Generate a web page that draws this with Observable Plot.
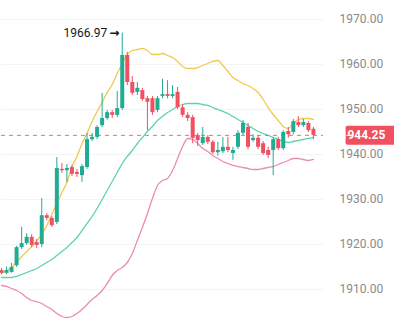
<!DOCTYPE html>
<html><head><meta charset="utf-8">
<script src="https://cdn.jsdelivr.net/npm/d3@7"></script>
<script src="https://cdn.jsdelivr.net/npm/@observablehq/plot@0.6"></script>
<style>body{margin:0;background:#fff}</style>
</head><body><div id="chart"></div>
<script>
const open  = [1914.2,1913.6,1913.8,1915.3,1919.3,1920.2,1921.6,1920.4,1920.0,1926.4,1925.8,1924.9,1936.7,1936.4,1937.1,1936.0,1935.3,1937.1,1943.3,1943.8,1946.4,1948.0,1949.3,1948.7,1950.2,1962.0,1956.0,1953.8,1954.2,1952.4,1952.4,1949.8,1952.9,1953.3,1952.9,1953.8,1950.4,1948.7,1948.2,1944.2,1942.4,1943.8,1942.7,1940.4,1940.6,1941.6,1940.2,1941.6,1944.7,1946.0,1943.1,1943.6,1942.4,1940.9,1940.9,1943.3,1941.3,1945.1,1944.9,1947.1,1946.4,1946.9,1945.6];
const close = [1913.6,1914.2,1914.9,1919.3,1920.2,1921.6,1919.8,1919.8,1926.4,1925.8,1924.2,1936.9,1936.4,1936.9,1935.6,1935.6,1937.3,1943.3,1943.8,1946.0,1948.0,1949.3,1948.7,1950.2,1962.0,1956.0,1953.6,1954.7,1952.2,1951.6,1949.3,1952.4,1953.3,1952.9,1953.3,1950.4,1948.7,1948.0,1943.6,1943.1,1943.8,1942.7,1940.4,1940.9,1941.6,1940.9,1940.9,1944.7,1946.9,1941.6,1943.6,1941.6,1940.2,1939.8,1943.3,1941.3,1944.9,1944.4,1947.3,1946.4,1947.1,1945.3,1944.25];
const high  = [1914.7,1915.0,1915.8,1919.6,1923.8,1922.4,1922.2,1921.1,1930.2,1926.9,1926.2,1939.3,1938.0,1937.8,1937.6,1936.7,1937.8,1944.7,1944.7,1946.4,1953.6,1949.8,1949.8,1954.0,1966.97,1962.7,1957.3,1956.0,1954.7,1952.9,1952.9,1952.9,1956.7,1956.4,1955.3,1954.9,1951.1,1949.3,1948.7,1944.7,1946.0,1944.2,1943.1,1942.7,1943.8,1943.8,1941.6,1945.3,1947.6,1946.9,1944.4,1944.2,1942.9,1941.6,1943.8,1943.8,1945.3,1946.0,1947.8,1948.4,1947.8,1947.3,1946.0];
const low   = [1913.3,1913.3,1913.6,1914.9,1918.9,1919.8,1919.3,1919.1,1919.3,1925.3,1923.8,1924.4,1935.8,1933.8,1935.1,1934.9,1933.8,1936.7,1942.9,1943.3,1946.0,1947.6,1948.0,1948.2,1949.8,1955.3,1953.1,1953.1,1951.8,1945.3,1948.7,1949.3,1952.4,1952.4,1952.4,1950.0,1948.2,1947.3,1942.4,1941.8,1942.0,1942.2,1940.0,1939.6,1940.2,1940.4,1938.7,1941.1,1944.2,1941.1,1942.7,1941.1,1939.8,1939.1,1935.3,1940.9,1940.9,1943.6,1944.4,1946.0,1946.0,1944.9,1943.3];
const upper = [1913.56,1914.22,1914.89,1916.0,1917.33,1918.44,1919.56,1920.89,1922.22,1924.22,1926.67,1929.11,1931.56,1933.78,1937.3,1939.56,1942.44,1944.67,1947.33,1949.56,1951.56,1953.78,1955.56,1958.0,1960.22,1962.22,1963.11,1963.33,1963.56,1963.11,1962.22,1962.22,1962.44,1962.0,1961.56,1960.67,1959.56,1959.11,1959.11,1959.33,1959.78,1960.22,1960.67,1960.89,1959.78,1958.44,1957.11,1956.44,1955.78,1955.33,1954.67,1953.78,1952.22,1950.44,1948.89,1947.56,1946.22,1945.78,1946.89,1947.78,1948.0,1948.0,1947.78];
const middle = [1912.67,1912.67,1912.67,1912.89,1913.33,1913.78,1914.22,1914.67,1915.33,1916.0,1916.67,1917.56,1918.44,1919.33,1920.44,1921.56,1923.11,1924.67,1926.22,1928.0,1930.0,1932.0,1934.0,1936.0,1938.0,1939.56,1940.89,1942.44,1943.78,1945.11,1946.22,1947.56,1948.44,1949.33,1950.0,1950.67,1951.11,1951.33,1951.33,1951.33,1951.11,1950.89,1950.44,1950.0,1949.56,1949.11,1948.44,1947.78,1947.11,1946.44,1945.78,1945.11,1944.67,1944.22,1943.78,1943.33,1942.89,1942.67,1942.89,1943.11,1943.33,1943.56,1943.78];
const lower = [1910.89,1910.67,1910.22,1909.78,1909.11,1908.22,1907.56,1907.33,1906.89,1906.22,1905.56,1904.67,1904.0,1903.78,1904.0,1904.67,1905.56,1906.67,1907.78,1908.67,1909.78,1911.33,1913.11,1914.22,1914.89,1916.0,1918.0,1920.89,1923.78,1926.89,1930.22,1933.11,1934.22,1934.67,1936.44,1939.11,1941.78,1943.56,1943.33,1942.44,1941.33,1940.67,1939.78,1939.11,1938.44,1938.0,1937.56,1937.33,1937.11,1936.89,1936.67,1936.67,1936.89,1937.11,1937.33,1937.78,1938.22,1938.67,1939.11,1939.11,1938.89,1938.67,1938.89];
const yTicks = [1910, 1920, 1930, 1940, 1950, 1960, 1970];
const lastPrice = 1944.25;
const peakIndex = 24;
const peakPrice = 1966.97;

const GREEN = "#22ab94", RED = "#f0505f";
const candles = open.map((o, i) => ({i, open: o, close: close[i], high: high[i], low: low[i], color: close[i] >= o ? GREEN : RED}));
const bands = upper.map((u, i) => ({i, upper: u, middle: middle[i], lower: lower[i]}));
const peak = [{i: peakIndex, v: peakPrice}];

const chart = Plot.plot({
  width: 394, height: 321,
  marginLeft: 1, marginRight: 71, marginTop: 0, marginBottom: 0,
  x: {domain: [0, 64], axis: null},
  y: {domain: [1902.89, 1974.22], axis: null},
  style: {background: "#fff", fontFamily: "Roboto, sans-serif"},
  marks: [
    Plot.ruleY(yTicks, {stroke: "#f4f4f4"}),
    Plot.line(bands, {x: "i", y: "upper", stroke: "#f0c850", strokeWidth: 1.3, curve: "monotone-x"}),
    Plot.line(bands, {x: "i", y: "middle", stroke: "#5dd3ad", strokeWidth: 1.3, curve: "monotone-x"}),
    Plot.line(bands, {x: "i", y: "lower", stroke: "#ea8cb8", strokeWidth: 1.3, curve: "monotone-x"}),
    Plot.ruleY([lastPrice], {stroke: RED, strokeOpacity: 0.85, strokeDasharray: "4,4"}),
    Plot.ruleX(candles, {x: "i", y1: "low", y2: "high", stroke: "color", strokeWidth: 1}),
    Plot.ruleX(candles, {x: "i", y1: "open", y2: "close", stroke: "color", strokeWidth: 4, strokeLinecap: "butt"}),
    Plot.text(peak, {x: "i", y: "v", text: d => d.v.toFixed(2), textAnchor: "end", dx: -15, fontSize: 12, fill: "#131722"}),
    Plot.text(peak, {x: "i", y: "v", text: () => "→", textAnchor: "end", dx: -3, fontSize: 12, fontWeight: "bold", fill: "#131722", fontFamily: "DejaVu Sans"}),
    Plot.axisY(yTicks, {anchor: "right", tickSize: 0, tickPadding: 16, tickFormat: d => d.toFixed(2), fill: "#8a8a8a", fontSize: 12, textAnchor: "start"}),
    Plot.text([lastPrice], {
      y: d => d, frameAnchor: "right", dx: 17, textAnchor: "start",
      text: d => d.toFixed(2), fill: "white", fontWeight: "bold", fontSize: 12,
      render(index, scales, values, dims, context, next) {
        const g = next(index, scales, values, dims, context);
        const yy = scales.y(lastPrice);
        const x0 = dims.width - dims.marginRight + 5;
        const ns = "http://www.w3.org/2000/svg";
        const rect = document.createElementNS(ns, "rect");
        rect.setAttribute("x", x0);
        rect.setAttribute("y", yy - 9.5);
        rect.setAttribute("width", dims.width - x0);
        rect.setAttribute("height", 19);
        rect.setAttribute("rx", 2);
        rect.setAttribute("fill", RED);
        const tick = document.createElementNS(ns, "line");
        tick.setAttribute("x1", x0 + 1);
        tick.setAttribute("x2", x0 + 6);
        tick.setAttribute("y1", yy);
        tick.setAttribute("y2", yy);
        tick.setAttribute("stroke", "white");
        g.insertBefore(tick, g.firstChild);
        g.insertBefore(rect, g.firstChild);
        return g;
      }
    })
  ]
});
document.getElementById("chart").append(chart);
</script>
</body></html>
